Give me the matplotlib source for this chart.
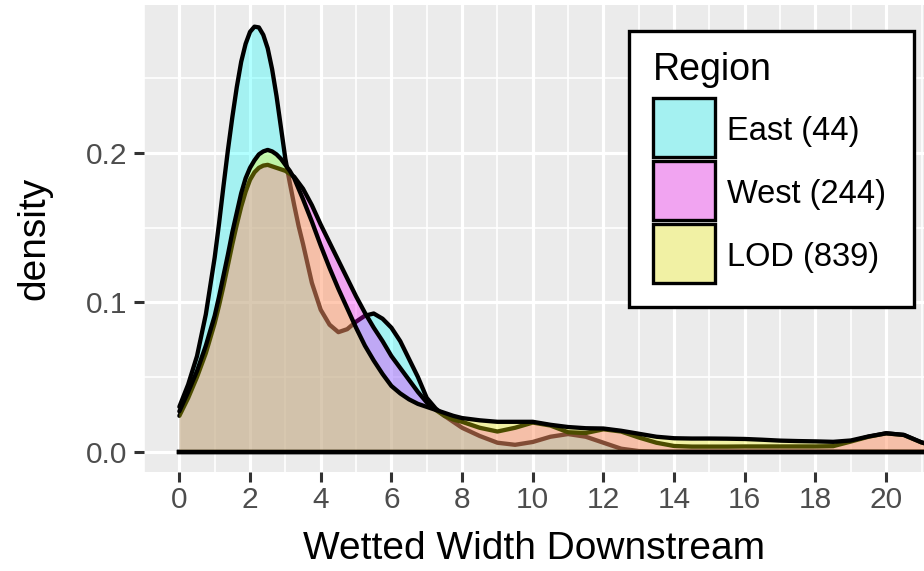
import matplotlib
matplotlib.use("Agg")
import matplotlib.pyplot as plt
from matplotlib.patches import Rectangle

plt.rcParams['font.family'] = ['Liberation Sans', 'DejaVu Sans']

# density curves (x = wetted width downstream)
width = [0, 0.25, 0.5, 0.75, 1, 1.125, 1.25, 1.375, 1.5, 1.625, 1.75, 1.875, 2, 2.125, 2.25,
         2.375, 2.5, 2.625, 2.75, 2.875, 3, 3.125, 3.25, 3.375, 3.5, 3.75,
         4, 4.25, 4.5, 4.75, 5, 5.25, 5.5, 5.75, 6, 6.25, 6.5, 6.75, 7, 7.25, 7.5, 7.75, 8,
         8.5, 9, 9.5, 10, 10.5, 11, 11.5, 12, 12.5, 13, 13.5, 14, 14.5, 15, 15.5, 16,
         16.5, 17, 17.5, 18, 18.5, 19, 19.5, 20, 20.5, 21, 21.5]

east = [0.030, 0.045, 0.064, 0.092, 0.130, 0.153, 0.178, 0.202, 0.224, 0.244, 0.261, 0.273,
        0.281, 0.2845, 0.284, 0.279, 0.270, 0.256, 0.238, 0.217, 0.196, 0.180, 0.165, 0.151,
        0.139, 0.113, 0.095, 0.085, 0.080, 0.082, 0.087, 0.091, 0.0925, 0.089,
        0.083, 0.074, 0.062, 0.050, 0.036, 0.029, 0.024, 0.020, 0.016,
        0.0105, 0.006, 0.0046, 0.0065, 0.010, 0.0118, 0.010, 0.006, 0.002, 0.0004,
        0, 0, 0, 0, 0, 0, 0, 0, 0, 0, 0, 0, 0, 0, 0, 0, 0]

west = [0.024, 0.036, 0.050, 0.066, 0.086, 0.098, 0.111, 0.125, 0.139, 0.152, 0.164, 0.174,
        0.182, 0.187, 0.190, 0.1915, 0.192, 0.191, 0.190, 0.189, 0.188, 0.186, 0.184, 0.180,
        0.176, 0.165, 0.152, 0.140, 0.128, 0.116, 0.104, 0.093, 0.083, 0.074,
        0.064, 0.056, 0.048, 0.040, 0.033, 0.028, 0.024, 0.0215, 0.020,
        0.016, 0.0135, 0.016, 0.0195, 0.0175, 0.013, 0.0125, 0.015, 0.0135, 0.0095,
        0.006, 0.0038, 0.0034, 0.0034, 0.0034, 0.0035, 0.0035, 0.0035, 0.0035, 0.0035,
        0.0037, 0.0068, 0.0100, 0.0123, 0.0112, 0.0062, 0.003]

lod = [0.027, 0.040, 0.054, 0.071, 0.091, 0.104, 0.118, 0.132, 0.147, 0.160, 0.173, 0.183,
       0.190, 0.195, 0.199, 0.201, 0.202, 0.201, 0.199, 0.196, 0.192, 0.188, 0.183, 0.176,
       0.169, 0.154, 0.138, 0.123, 0.109, 0.096, 0.083, 0.071, 0.061, 0.052,
       0.044, 0.039, 0.035, 0.032, 0.030, 0.028, 0.026, 0.024, 0.0225,
       0.021, 0.020, 0.020, 0.020, 0.018, 0.0165, 0.0157, 0.0155, 0.014, 0.012,
       0.010, 0.009, 0.0088, 0.0088, 0.0087, 0.0085, 0.008, 0.0074, 0.0071, 0.0069,
       0.0066, 0.0075, 0.0102, 0.0123, 0.0112, 0.0062, 0.003]

regions = ['East', 'West', 'LOD']
counts = [44, 244, 839]
fills = [(0, 1, 1, 0.3), (1, 0, 1, 0.3), (1, 1, 0, 0.3)]

x_ticks = [0, 2, 4, 6, 8, 10, 12, 14, 16, 18, 20]
y_ticks = [0.0, 0.1, 0.2]
y_tick_labels = ['0.0', '0.1', '0.2']

W, H = 924, 571
fig = plt.figure(figsize=(W / 100, H / 100), dpi=100)
ax = fig.add_axes([144 / W, (H - 472) / H, 1 - 144 / W, (472 - 5) / H])

# ggplot grey theme
ax.set_facecolor('#EBEBEB')
for s in ax.spines.values():
    s.set_visible(False)
ax.set_axisbelow(True)
ax.set_xticks(x_ticks)
ax.set_xticks([-1, 1, 3, 5, 7, 9, 11, 13, 15, 17, 19, 21], minor=True)
ax.set_yticks(y_ticks)
ax.set_yticklabels(y_tick_labels)
ax.set_yticks([0.05, 0.15, 0.25], minor=True)
ax.grid(which='major', color='white', linewidth=2.3)
ax.grid(which='minor', color='white', linewidth=1.2)
ax.tick_params(which='major', length=7, width=2.2, color='#333333',
               labelsize=21.5, labelcolor='#4D4D4D')
ax.tick_params(axis='x', pad=3)
ax.tick_params(axis='y', pad=5)
ax.tick_params(which='minor', length=0)

# each group: fill then outline, in order, so later fills tint earlier outlines
z = 2
for dens, fc in zip([east, west, lod], fills):
    ax.fill_between(width, 0, dens, facecolor=fc, edgecolor='none', linewidth=0, zorder=z)
    ax.plot(width, dens, color='black', linewidth=3.1, solid_joinstyle='round',
            solid_capstyle='round', zorder=z + 1)
    ax.plot([width[0], width[-1]], [0, 0], color='black', linewidth=3.1, zorder=z + 1)
    z += 2

ax.set_xlim(-1.0, 21.07)
ax.set_ylim(-0.0136, 0.299)

ax.set_xlabel('Wetted Width Downstream', fontsize=28, labelpad=12)
ax.set_ylabel('density', fontsize=28, labelpad=24)

# legend box drawn in pixel positions (top-left origin)
def fx(px):
    return px / W

def fy(py):
    return 1 - py / H

fig.patches.append(Rectangle((fx(629), fy(307)), fx(914) - fx(629), fy(31) - fy(307),
                             transform=fig.transFigure, facecolor='white',
                             edgecolor='black', linewidth=2.4, zorder=5))
fig.text(fx(653), fy(80), 'Region', fontsize=27, va='baseline', ha='left', zorder=6)

key_tops = [98, 161, 224]
for top, name, n, fc in zip(key_tops, regions, counts, fills):
    fig.patches.append(Rectangle((fx(653), fy(top + 59)), fx(715) - fx(653), fy(top) - fy(top + 59),
                                 transform=fig.transFigure, facecolor='#EBEBEB',
                                 edgecolor='none', zorder=6))
    fig.patches.append(Rectangle((fx(653), fy(top + 59)), fx(715) - fx(653), fy(top) - fy(top + 59),
                                 transform=fig.transFigure, facecolor=fc,
                                 edgecolor='black', linewidth=2.4, zorder=7))
    fig.text(fx(727), fy(top + 42), f'{name} ({n})', fontsize=23.5, va='baseline',
             ha='left', zorder=8)

fig.savefig('out.png', dpi=100)
